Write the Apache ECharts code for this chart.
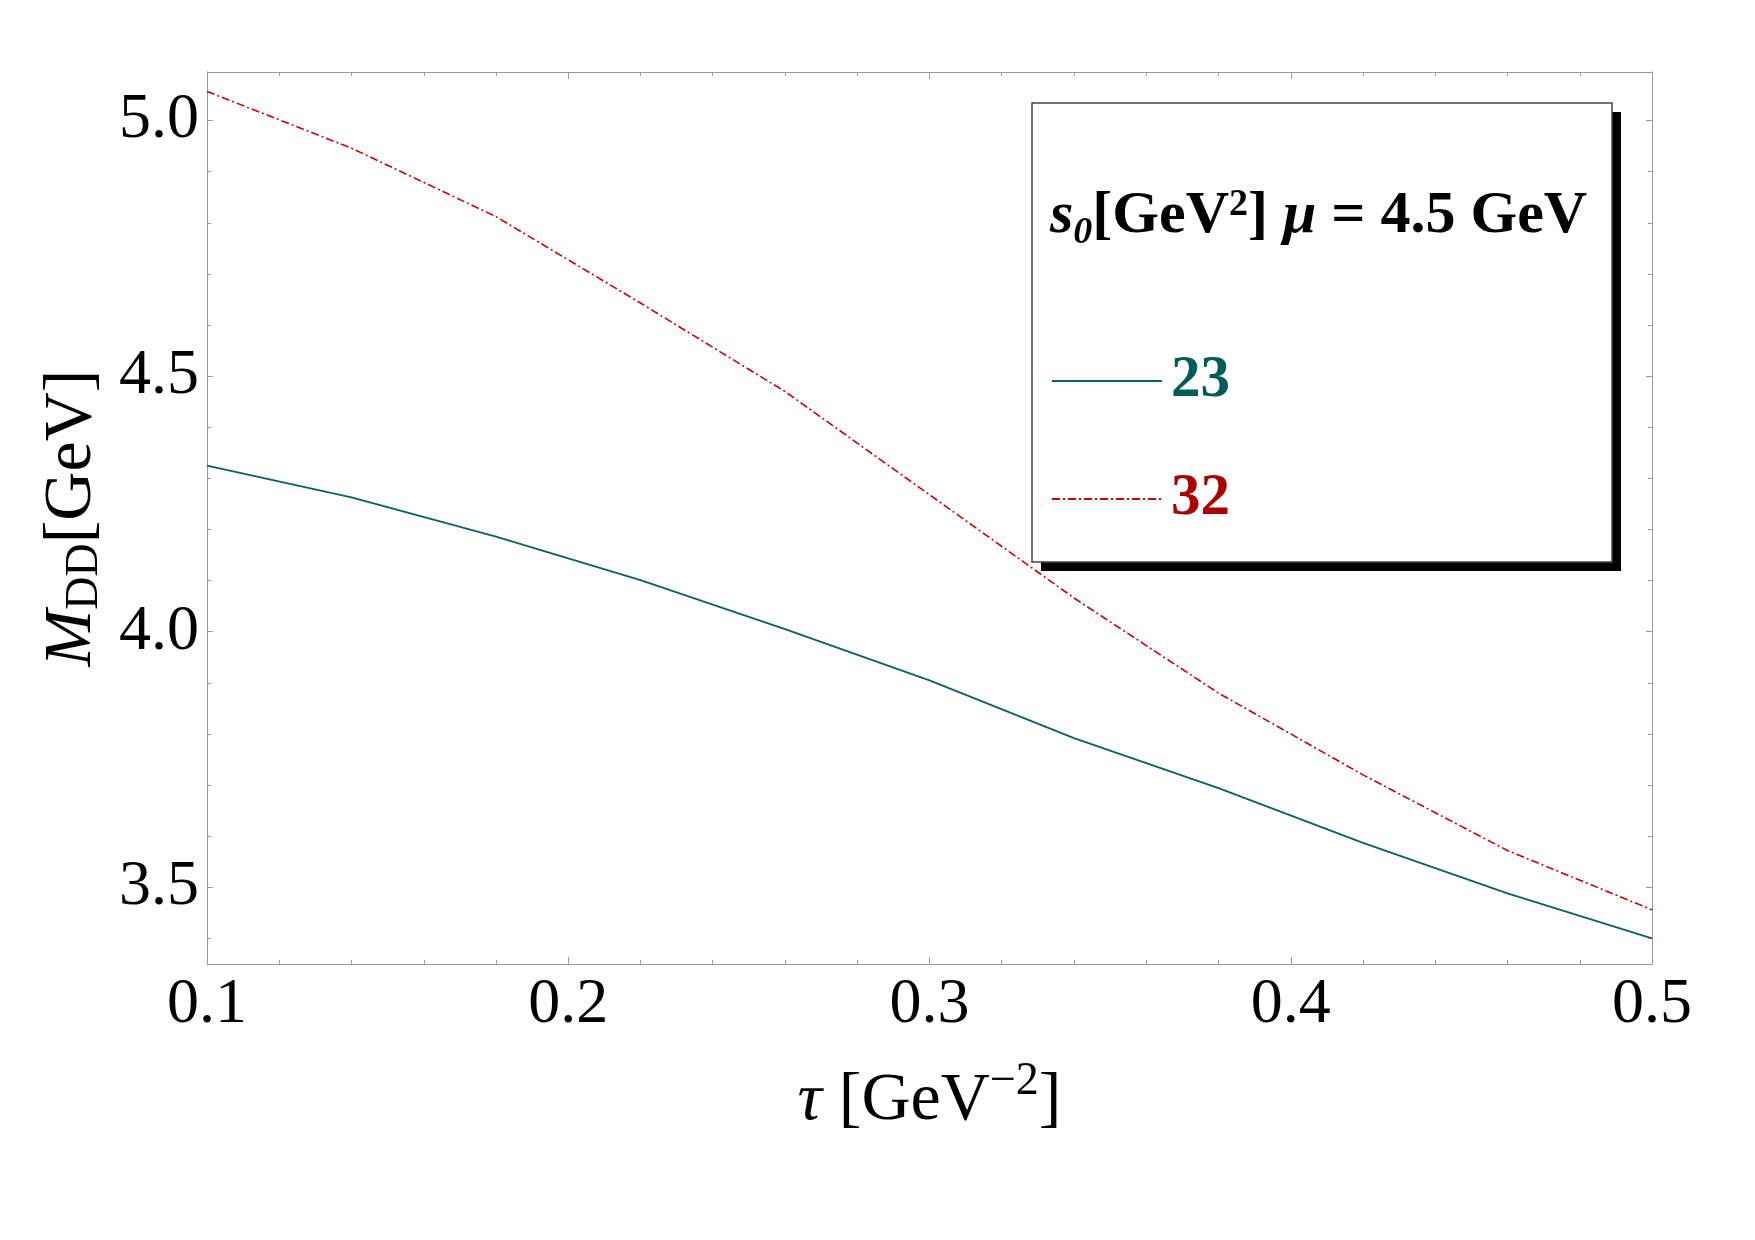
<!DOCTYPE html>
<html>
<head>
<meta charset="utf-8">
<script src="https://cdn.jsdelivr.net/npm/echarts@6/dist/echarts.min.js"></script>
<style>
  html, body { margin: 0; padding: 0; background: #fff; }
  #chart { width: 1755px; height: 1240px; }
</style>
</head>
<body>
<div id="chart"></div>
<script>
// tau [GeV^-2] and M_DD [GeV]
var tau = [0.10, 0.14, 0.18, 0.22, 0.26, 0.30, 0.34, 0.38, 0.42, 0.46, 0.50];
var mass23 = [4.325, 4.263, 4.186, 4.101, 4.005, 3.905, 3.792, 3.694, 3.587, 3.488, 3.400];
var mass32 = [5.057, 4.946, 4.812, 4.643, 4.470, 4.268, 4.066, 3.880, 3.720, 3.572, 3.456];
var seriesNames = ['23', '32'];
var yMajorTicks = [3.5, 4.0, 4.5, 5.0];
var yMinorTicks = [3.4, 3.6, 3.7, 3.8, 3.9, 4.1, 4.2, 4.3, 4.4, 4.6, 4.7, 4.8, 4.9];

var serif = 'Liberation Serif';
var axisGray = '#9a9a9a';
var teal = '#0b6262';
var red = '#cc0000';

function pairs(xs, ys) {
    var out = [];
    for (var i = 0; i < xs.length; i++) out.push([xs[i], ys[i]]);
    return out;
}

function yAxisDef(pos, ticks, len, withLabel) {
    return {
        type: 'value', position: pos, min: 3.35, max: 5.095,
        axisLine: { show: true, lineStyle: { color: axisGray, width: 1 } },
        axisTick: { show: true, inside: true, length: len, customValues: ticks,
                    lineStyle: { color: axisGray } },
        axisLabel: withLabel ? {
            show: true, customValues: ticks, margin: 8,
            fontFamily: serif, fontSize: 64, color: '#000',
            formatter: function (v) { return v.toFixed(1); }
        } : { show: false },
        splitLine: { show: false }
    };
}

function xAxisDef(pos, withLabel) {
    return {
        type: 'value', position: pos, min: 0.1, max: 0.5, interval: 0.1,
        axisLine: { show: true, lineStyle: { color: axisGray, width: 1 } },
        axisTick: { show: true, inside: true, length: 7, lineStyle: { color: axisGray } },
        minorTick: { show: true, splitNumber: 5, length: 4, lineStyle: { color: axisGray } },
        axisLabel: withLabel ? {
            show: true, margin: 9, fontFamily: serif, fontSize: 64, color: '#000',
            formatter: function (v) { return v.toFixed(1); }
        } : { show: false },
        splitLine: { show: false }
    };
}

var chart = echarts.init(document.getElementById('chart'));

var xBottom = xAxisDef('bottom', true);
xBottom.name = '{t|τ}{n| [GeV}{sup|−2}{n|]}';
xBottom.nameLocation = 'middle';
xBottom.nameGap = 95;
xBottom.nameTextStyle = {
    rich: {
        t: { fontFamily: serif, fontSize: 68, fontStyle: 'italic', color: '#000', lineHeight: 76, verticalAlign: 'bottom' },
        n: { fontFamily: serif, fontSize: 68, color: '#000', lineHeight: 76, verticalAlign: 'bottom' },
        sup: { fontFamily: serif, fontSize: 46, color: '#000', lineHeight: 46, verticalAlign: 'top' }
    }
};

var yLeft = yAxisDef('left', yMajorTicks, 6, true);
yLeft.name = '{m|M}{s|DD}{n|[GeV]}';
yLeft.nameLocation = 'middle';
yLeft.nameRotate = 90;
yLeft.nameGap = 90;
yLeft.nameTextStyle = {
    rich: {
        m: { fontFamily: serif, fontSize: 68, fontStyle: 'italic', color: '#000', lineHeight: 70, verticalAlign: 'top' },
        s: { fontFamily: serif, fontSize: 46, color: '#000', lineHeight: 46, verticalAlign: 'bottom' },
        n: { fontFamily: serif, fontSize: 68, color: '#000', lineHeight: 70, verticalAlign: 'top' }
    }
};

var option = {
    animation: false,
    backgroundColor: '#fff',
    grid: { left: 207, right: 103, top: 72, bottom: 276, outerBoundsMode: 'none' },
    xAxis: [xBottom, xAxisDef('top', false)],
    yAxis: [
        yLeft,
        yAxisDef('left', yMinorTicks, 4, false),
        yAxisDef('right', yMajorTicks, 6, false),
        yAxisDef('right', yMinorTicks, 4, false)
    ],
    legend: {
        orient: 'vertical',
        left: 1051, top: 351,
        padding: 0,
        itemWidth: 110, itemHeight: 14, itemGap: 58,
        itemStyle: { opacity: 0 },
        textStyle: { fontFamily: serif, fontSize: 59, fontWeight: 'bold', lineHeight: 60, padding: [0, 0, 0, 4] },
        data: [
            { name: seriesNames[0], textStyle: { color: '#005b5b' } },
            { name: seriesNames[1], textStyle: { color: '#aa0000' } }
        ],
        z: 20
    },
    graphic: [
        { type: 'rect', z: 10, shape: { x: 1041, y: 112, width: 580, height: 459 },
          style: { fill: '#000' } },
        { type: 'rect', z: 11, shape: { x: 1032, y: 103, width: 580, height: 459 },
          style: { fill: '#fff', stroke: '#444', lineWidth: 1.5 } },
        { type: 'text', z: 12, x: 1050, y: 219,
          style: {
              text: '{si|s}{sub|0}{n|[GeV}{sup|2}{n|] }{mu|μ}{n| = 4.5 GeV}',
              verticalAlign: 'middle',
              rich: {
                  si: { fontFamily: serif, fontSize: 60, fontWeight: 'bold', fontStyle: 'italic', fill: '#000', lineHeight: 66, verticalAlign: 'top' },
                  sub: { fontFamily: serif, fontSize: 38, fontWeight: 'bold', fontStyle: 'italic', fill: '#000', lineHeight: 38, verticalAlign: 'bottom' },
                  n: { fontFamily: serif, fontSize: 60, fontWeight: 'bold', fill: '#000', lineHeight: 66, verticalAlign: 'top' },
                  sup: { fontFamily: serif, fontSize: 38, fontWeight: 'bold', fill: '#000', lineHeight: 38, verticalAlign: 'top' },
                  mu: { fontFamily: serif, fontSize: 60, fontWeight: 'bold', fontStyle: 'italic', fill: '#000', lineHeight: 66, verticalAlign: 'top' }
              }
          } }
    ],
    series: [
        {
            name: seriesNames[0], type: 'line', symbol: 'none',
            data: pairs(tau, mass23),
            lineStyle: { color: teal, width: 1.8 },
            itemStyle: { color: teal }
        },
        {
            name: seriesNames[1], type: 'line', symbol: 'none',
            data: pairs(tau, mass32),
            lineStyle: { color: red, width: 1.6, type: [8, 3, 2, 3] },
            itemStyle: { color: red }
        }
    ]
};

chart.setOption(option);
</script>
</body>
</html>
